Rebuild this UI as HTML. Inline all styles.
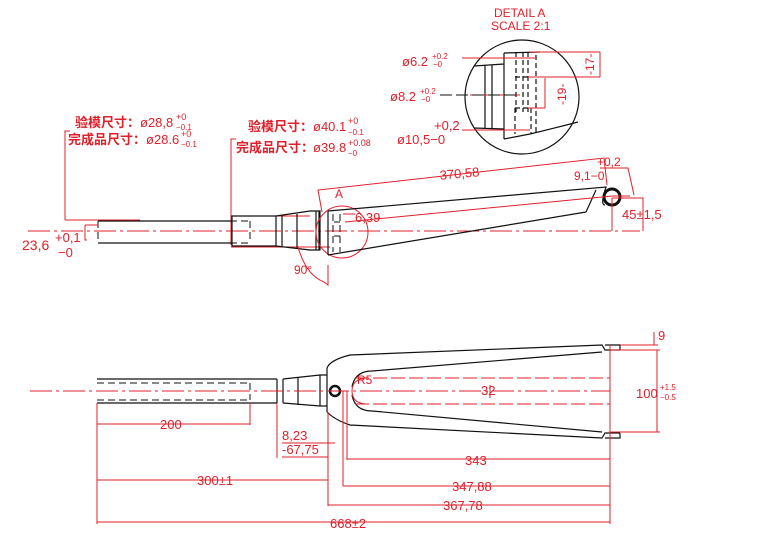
<!DOCTYPE html>
<html><head><meta charset="utf-8"><style>
html,body{margin:0;padding:0;background:#fff;width:760px;height:556px;overflow:hidden}
svg{display:block}
text{font-family:"Liberation Sans","Noto Sans CJK SC",sans-serif;fill:#e0202a}
.r{stroke:#e0202a;stroke-width:1;fill:none}
.k{stroke:#111;stroke-width:1.2;fill:none}
.kd{stroke:#111;stroke-width:1;fill:none;stroke-dasharray:7 4}
.c{stroke:#e0202a;stroke-width:1;fill:none;stroke-dasharray:22 4 3 4}
.cn{font-weight:bold;font-size:13px}
</style></head><body>
<svg width="760" height="556" viewBox="0 0 760 556" xmlns="http://www.w3.org/2000/svg">
<!-- DETAIL A -->
<text x="494" y="17" font-size="12">DETAIL A</text>
<text x="491" y="30" font-size="12">SCALE 2:1</text>
<circle cx="522" cy="97" r="57" class="k"/>
<path class="k" d="M504 53 L504 139 M504 53 L540 52 M504 139 L530 134 Q555 128 578 122 M474 66 L504 64 M474 128 L504 129 M485 65 L485 128 M492 65 L492 128"/>
<path class="k" d="M516 52 L516 112 M523 52 L523 112 M528 52 L528 112 M515 77 L528 77 M515 108 L531 108 M515 108 L515 134 M531 108 L531 134 M536 55 L536 132" stroke-dasharray="5 3"/>
<path class="r" d="M462 58 L535 58 M600 52 L530 52 M600 77 L528 77 M600 52 L600 77 M470 95 L520 95 M545 78 L545 108 M545 108 L528 108 M462 130 L530 130"/>
<line x1="440" y1="95" x2="520" y2="95" stroke="#111" stroke-dasharray="12 4"/>
<text x="402" y="66" font-size="13">ø6.2</text><text x="432" y="59" font-size="8">+0.2</text><text x="433" y="67" font-size="8">−0</text>
<text x="390" y="101" font-size="13">ø8.2</text><text x="420" y="94" font-size="8">+0.2</text><text x="421" y="102" font-size="8">−0</text>
<text x="434" y="130" font-size="13">+0,2</text>
<text x="397" y="144" font-size="13">ø10,5−0</text>
<text x="594" y="75" font-size="12" transform="rotate(-90 594 75)">-17-</text>
<text x="566" y="105" font-size="12" transform="rotate(-90 566 105)">-19-</text>

<!-- labels -->
<text x="75" y="127" class="cn">验模尺寸：</text><text x="140" y="127" font-size="13">ø28,8</text><text x="176" y="120" font-size="9">+0</text><text x="176" y="130" font-size="8">−0.1</text>
<text x="68" y="144" class="cn">完成品尺寸：</text><text x="146" y="144" font-size="13">ø28.6</text><text x="181" y="137" font-size="9">+0</text><text x="181" y="147" font-size="8">−0.1</text>
<text x="248" y="131" class="cn">验模尺寸：</text><text x="313" y="131" font-size="13">ø40.1</text><text x="348" y="124" font-size="9">+0</text><text x="348" y="135" font-size="8">−0.1</text>
<text x="236" y="152" class="cn">完成品尺寸：</text><text x="313" y="152" font-size="13">ø39.8</text><text x="348" y="146" font-size="9">+0.08</text><text x="348" y="156" font-size="8">−0</text>

<!-- top view -->
<path class="r" d="M65 220 L65 131 L70 131 M231 245 L231 139 L236 139 M65 220 L140 220 M231 216 L310 216 M231 247 L330 247"/>
<line x1="28" y1="231" x2="640" y2="231" class="c"/>
<path class="k" d="M98 221 L232 221 M98 243 L232 243 M232 216 L276 216 L276 246 L232 246 Z M276 216 L310 211 L320 211 L320 250 L310 250 L276 246 M282 216 L282 246 M297 214 L297 248 M316 211 L316 250 M319 211 L319 250"/>
<path class="kd" d="M98 221 L98 243 M98 221 L250 221 M98 243 L250 243 M250 221 L250 243"/>
<path class="r" d="M85 225 L85 240 L87 240 M85 225 L98 225"/>
<text x="22" y="250" font-size="14">23,6</text><text x="55" y="242" font-size="13">+0,1</text><text x="58" y="257" font-size="13">−0</text>
<circle cx="342" cy="232" r="26" class="r"/>
<path class="k" d="M328 211 L606 187 Q600 205 605 205 M328 255 L586 212 M328 211 L328 255 M596 190 L586 212"/>
<path class="kd" d="M333 214 L333 252 M340 214 L340 252 M334 222 L340 222 M334 236 L340 236"/>
<circle cx="612" cy="197" r="8" stroke="#111" stroke-width="3" fill="none"/>
<path class="r" d="M345 222 L612 196 L630 196 M322 212 L318 190 L604 158 L607 185 M343 214 L355 214 M612 198 L643 198 L643 231 M612 198 L612 231 M600 168 L628 168 L634 195"/>
<path class="r" d="M298 247 Q306 275 324 282 L328 285 L328 265"/>
<text x="335" y="198" font-size="12">A</text>
<text x="355" y="222" font-size="13">6,39</text>
<text x="440" y="178" font-size="13" transform="rotate(-5 460 178)">370,58</text>
<text x="597" y="166" font-size="12">+0,2</text>
<text x="574" y="180" font-size="12">9,1−0</text>
<text x="622" y="219" font-size="13">45±1,5</text>
<text x="294" y="274" font-size="12">90°</text>

<!-- bottom view -->
<path class="k" d="M97 379 L277 379 M97 403 L277 403 M277 379 L277 403 M283 379 L283 403 M283 379 L320 375 L327 375 M283 403 L320 406 L327 406 M298 377 L298 405 M320 375 L320 406 M327 368 L327 412"/>
<path class="kd" d="M97 383 L250 383 M97 400 L250 400 M250 383 L250 400"/>
<path class="k" d="M327 368 Q330 360 350 355 L602 345 L605 350 L620 350 M327 412 Q335 420 350 425 L602 438 L605 433 L620 433 M352 387 Q355 371 372 371 L602 352 M352 395 Q355 411 372 411 L602 432"/>
<path class="k" d="M605 345 L620 345 L620 350 M605 438 L620 438 L620 433"/>
<circle cx="335" cy="391" r="5" stroke="#111" stroke-width="2.5" fill="none"/>
<line x1="30" y1="391" x2="610" y2="391" class="c"/>
<path class="r" d="M355 378 L610 378 M355 404 L610 404" stroke-dasharray="14 4"/>
<path class="r" d="M352 391 Q352 379 366 378 M352 391 Q352 403 366 404 M490 385 L490 398"/>
<path class="r" d="M97 403 L97 524 M250 403 L250 425 M277 403 L277 458 M328 412 L328 506 M343 391 L343 486 M347 391 L347 460 M610 345 L610 524 M610 350 L660 350 M620 345 L658 345 M610 432 L660 432 M657 350 L657 432 M654 332 L654 345"/>
<path class="r" d="M97 424 L250 424 M97 480 L328 480 M97 522 L610 522 M347 459 L610 459 M343 486 L610 486 M328 505 L610 505 M282 443 L335 443 M282 457 L328 457"/>
<text x="160" y="429" font-size="13">200</text>
<text x="197" y="485" font-size="13">300±1</text>
<text x="330" y="528" font-size="13">668±2</text>
<text x="465" y="465" font-size="13">343</text>
<text x="452" y="491" font-size="13">347,88</text>
<text x="443" y="510" font-size="13">367,78</text>
<text x="282" y="440" font-size="13">8,23</text>
<text x="282" y="454" font-size="13">-67,75</text>
<text x="357" y="384" font-size="12">R5</text>
<text x="481" y="395" font-size="13">32</text>
<text x="636" y="398" font-size="13">100</text><text x="660" y="390" font-size="8">+1.5</text><text x="660" y="400" font-size="8">−0.5</text>
<text x="658" y="340" font-size="13">9</text>
</svg>
</body></html>
